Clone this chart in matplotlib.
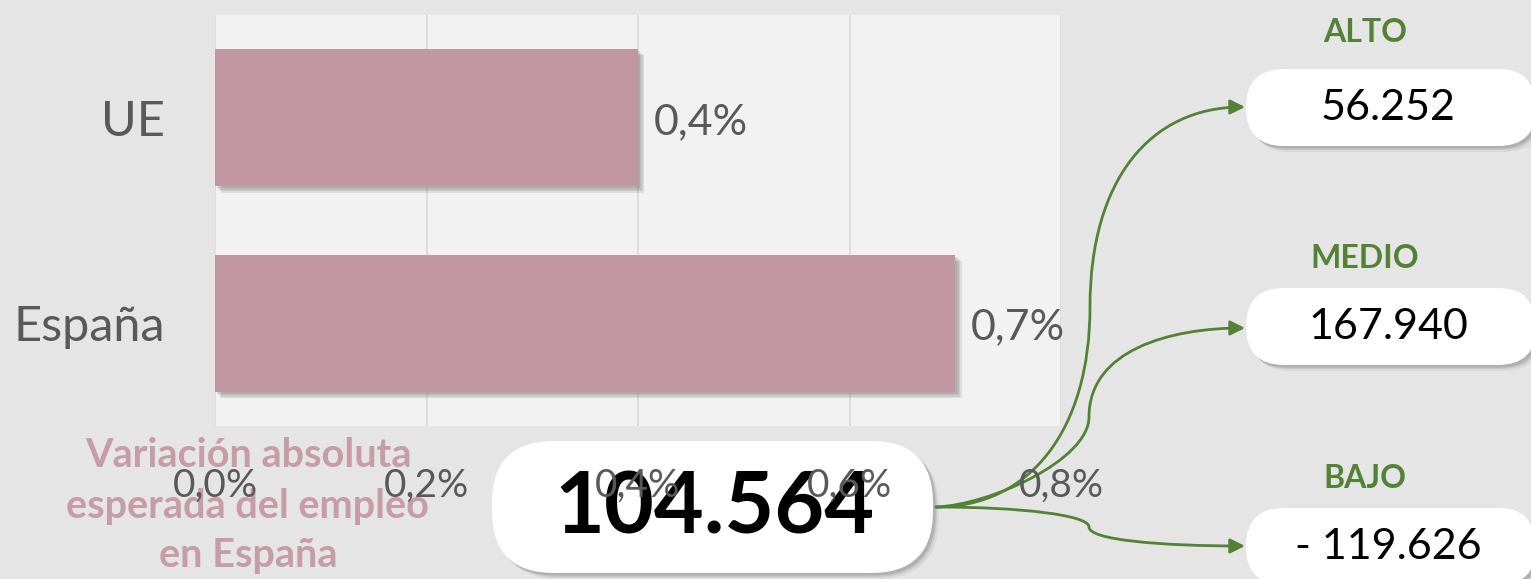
import matplotlib
matplotlib.use("Agg")
import matplotlib.pyplot as plt
from matplotlib.patches import FancyBboxPatch, FancyArrowPatch
from matplotlib.path import Path
import matplotlib.patheffects as pe

# ---- data ----
categories = ["España", "UE"]
growth_pct = [0.7, 0.4]
x_ticks = [0.0, 0.2, 0.4, 0.6, 0.8]
total_change = 104564
scenario_names = ["ALTO", "MEDIO", "BAJO"]
scenario_values = [56252, 167940, -119626]
caption_lines = ["Variación absoluta", "esperada del empleo", "en España"]

# ---- style ----
BG = "#e5e5e5"
PLOT_BG = "#f2f2f2"
BAR = "#c197a3"
CAPTION = "#c69ca8"
GREY_TXT = "#595959"
GREEN = "#538135"
FONT = "Lato"

def pct(v):
    return f"{v:.1f}".replace(".", ",") + "%"

def thousands(v):
    s = f"{abs(v):,}".replace(",", ".")
    return ("- " + s) if v < 0 else s

W, H = 1531, 579
fig = plt.figure(figsize=(W / 100, H / 100), dpi=100, facecolor=BG)

# overlay in pixel coordinates (annotations only)
ov = fig.add_axes([0, 0, 1, 1], zorder=1)
ov.set_xlim(0, W)
ov.set_ylim(H, 0)
ov.axis("off")
ov.patch.set_alpha(0)

# main bar chart
left, right, top, bottom = 215, 1061, 15, 426
ax = fig.add_axes([left / W, 1 - bottom / H, (right - left) / W, (bottom - top) / H], zorder=2)
ax.set_facecolor(PLOT_BG)
bars = ax.barh(range(len(categories)), growth_pct, height=0.667, color=BAR, zorder=3)
shadow = [pe.SimplePatchShadow(offset=(o, -o), shadow_rgbFace="#6f6f6f", alpha=0.16)
          for o in (1.5, 2.5, 3.5, 4.5)]
for b in bars:
    b.set_path_effects(shadow + [pe.Normal()])
ax.set_xlim(0, 0.8)
ax.set_ylim(-0.5, len(categories) - 0.5)
ax.set_xticks(x_ticks)
ax.set_xticklabels([pct(t) for t in x_ticks], fontsize=28, color=GREY_TXT, family=FONT)
ax.set_yticks(range(len(categories)))
ax.set_yticklabels(categories, fontsize=35, color=GREY_TXT, family=FONT)
ax.tick_params(axis="x", length=0, pad=30)
ax.tick_params(axis="y", length=0, pad=36)
ax.grid(axis="x", color="#d9d9d9", lw=1.2, zorder=0)
ax.set_axisbelow(True)
for s in ax.spines.values():
    s.set_visible(False)
for i, v in enumerate(growth_pct):
    ax.annotate(pct(v), (v, i), xytext=(11, -3), textcoords="offset points",
                va="center", ha="left", fontsize=31, color=GREY_TXT, family=FONT, zorder=4)

# caption
for y, line in zip([467, 518, 567], caption_lines):
    ov.text(248, y, line, ha="center", va="baseline", fontsize=28.5, fontweight="bold",
            color=CAPTION, family=FONT)

def pill(x, y, w, h, r):
    for k, a in [(6, 0.10), (4, 0.18), (2.5, 0.25)]:
        ov.add_patch(FancyBboxPatch((x + k, y + k), w, h, boxstyle=f"round,pad=0,rounding_size={r}",
                                    fc="#707070", ec="none", alpha=a, zorder=2))
    ov.add_patch(FancyBboxPatch((x, y), w, h, boxstyle=f"round,pad=0,rounding_size={r}",
                                fc="white", ec="none", zorder=3))

# central total
pill(492, 441, 441, 132, 62)
ov.text(714, 509, thousands(total_change), ha="center", va="center", fontsize=62,
        fontweight="bold", color="black", family=FONT, zorder=4)

# scenarios
label_y = [32, 259, 479]
box_top = [69, 288, 508]
for name, val, ly, bt in zip(scenario_names, scenario_values, label_y, box_top):
    ov.text(1365, ly, name, ha="center", va="center", fontsize=23, fontweight="bold",
            color=GREEN, family=FONT)
    pill(1246, bt, 290, 77, 38)
    ov.text(1388, bt + 39, thousands(val), ha="center", va="center", fontsize=31,
            color="black", family=FONT, zorder=4)

# connectors
S = (936, 507)
curves = [
    [S, (1030, 507), (1090, 430), (1090, 307), (1090, 180), (1150, 107), (1245, 107)],
    [S, (990, 505), (1089, 460), (1089, 417), (1089, 350), (1170, 328), (1245, 328)],
    [S, (1020, 507), (1089, 515), (1089, 527), (1089, 540), (1160, 546), (1245, 546)],
]
codes = [Path.MOVETO] + [Path.CURVE4] * 6
for pts in curves:
    arr = FancyArrowPatch(path=Path(pts, codes), arrowstyle="-|>", mutation_scale=22,
                          color=GREEN, lw=2, shrinkA=0, shrinkB=0, zorder=1)
    ov.add_patch(arr)

fig.savefig("out.png", dpi=100, facecolor=BG)
